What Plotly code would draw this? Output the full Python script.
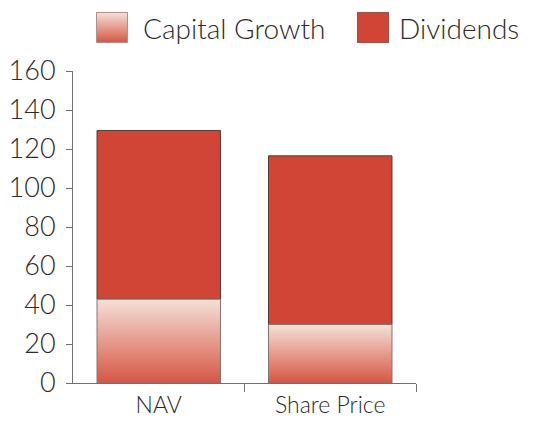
import base64
import plotly.graph_objects as go

# ---------------- data ----------------
categories = ["NAV", "Share Price"]
capital_growth = [43, 30]
dividends = [86.5, 86.5]
y_ticks = [0, 20, 40, 60, 80, 100, 120, 140, 160]
series_names = ["Capital Growth", "Dividends"]

# ---------------- style ----------------
OFF = 8  # page body margin
W, H = 544 - OFF, 421 - OFF
ML, MT = 73 - OFF, 71 - OFF
PR, PB = 416 - OFF, 383 - OFF  # plot right / bottom in figure px
MR, MB = W - PR, H - PB
BAR_W = 0.72
FONT = "Lato"
TXT = "#2b2b2b"
AXIS = "#707070"
RED = "#d04536"
GRAD_BOTTOM = "#d65643"
GRAD_TOP = "#f4e1d8"
EDGE = "#5a3a34"

fig = go.Figure()

# Capital Growth: gradient-filled bars built from the data values
for i, v in enumerate(capital_growth):
    x0, x1 = i - BAR_W / 2, i + BAR_W / 2
    fig.add_trace(go.Scatter(
        x=[x0, x1, x1, x0, x0], y=[0, 0, v, v, 0],
        mode="lines", fill="toself",
        line=dict(color="#8a7470", width=1),
        fillgradient=dict(type="vertical",
                          colorscale=[[0, GRAD_BOTTOM], [1, GRAD_TOP]]),
        name=series_names[0], showlegend=False, hoverinfo="skip",
    ))

# Dividends stacked on top
fig.add_trace(go.Bar(
    x=list(range(len(categories))), y=dividends, base=capital_growth,
    width=BAR_W, name=series_names[1], showlegend=False,
    marker=dict(color=RED, line=dict(color=EDGE, width=1)),
))

# ---------------- custom legend ----------------
def svg_uri(grad):
    if grad:
        fill = ("<defs><linearGradient id='g' x1='0' y1='0' x2='0' y2='1'>"
                f"<stop offset='0' stop-color='{GRAD_TOP}'/>"
                f"<stop offset='1' stop-color='{GRAD_BOTTOM}'/>"
                "</linearGradient></defs>"
                "<rect x='0.5' y='0.5' width='31' height='30' fill='url(#g)' stroke='#b0908a' stroke-width='1'/>")
    else:
        fill = f"<rect x='0.5' y='0.5' width='31' height='30' fill='{RED}' stroke='#a05048' stroke-width='1'/>"
    svg = f"<svg xmlns='http://www.w3.org/2000/svg' width='32' height='31' viewBox='0 0 32 31' preserveAspectRatio='none'>{fill}</svg>"
    return "data:image/svg+xml;base64," + base64.b64encode(svg.encode()).decode()

pw, ph = W - ML - MR, H - MT - MB
def px(x):  # page px -> paper
    return (x - OFF - ML) / pw
def py(y):
    return (H - MB - (y - OFF)) / ph

images = []
annotations = []
for name, sx, tx, grad in [(series_names[0], 96, 141, True), (series_names[1], 357, 397, False)]:
    images.append(dict(source=svg_uri(grad), xref="paper", yref="paper",
                       x=px(sx), y=py(12), sizex=32 / pw, sizey=31 / ph,
                       xanchor="left", yanchor="top", sizing="stretch", layer="above"))
    annotations.append(dict(text=name, xref="paper", yref="paper", x=px(tx), y=py(28),
                            xanchor="left", yanchor="middle", showarrow=False,
                            font=dict(family=FONT, size=28, color=TXT, weight=300)))

fig.update_layout(
    width=W, height=H,
    margin=dict(l=ML, r=MR, t=MT, b=MB, autoexpand=False),
    paper_bgcolor="white", plot_bgcolor="white",
    showlegend=False,
    images=images, annotations=annotations,
    font=dict(family=FONT, color=TXT, weight=300),
)
fig.update_xaxes(
    range=[-0.5, len(categories) - 0.5],
    tickvals=list(range(len(categories))), ticktext=categories,
    ticks="", showgrid=False, zeroline=False, automargin=False,
    showline=True, linecolor=AXIS, linewidth=1,
    tickfont=dict(family=FONT, size=23, color=TXT, weight=300),
    ticklabelstandoff=1,
    minor=dict(tickvals=[i + 0.5 for i in range(len(categories))],
               ticks="outside", ticklen=8, tickcolor=AXIS, tickwidth=1, showgrid=False),
)
fig.update_yaxes(
    range=[0, y_ticks[-1]], tickvals=y_ticks,
    ticks="outside", ticklen=6, tickcolor=AXIS, tickwidth=1,
    showgrid=False, zeroline=False, automargin=False,
    showline=True, linecolor=AXIS, linewidth=1,
    tickfont=dict(family=FONT, size=27, color=TXT, weight=300),
    ticklabelstandoff=5,
)

fig.write_html("out.html")
